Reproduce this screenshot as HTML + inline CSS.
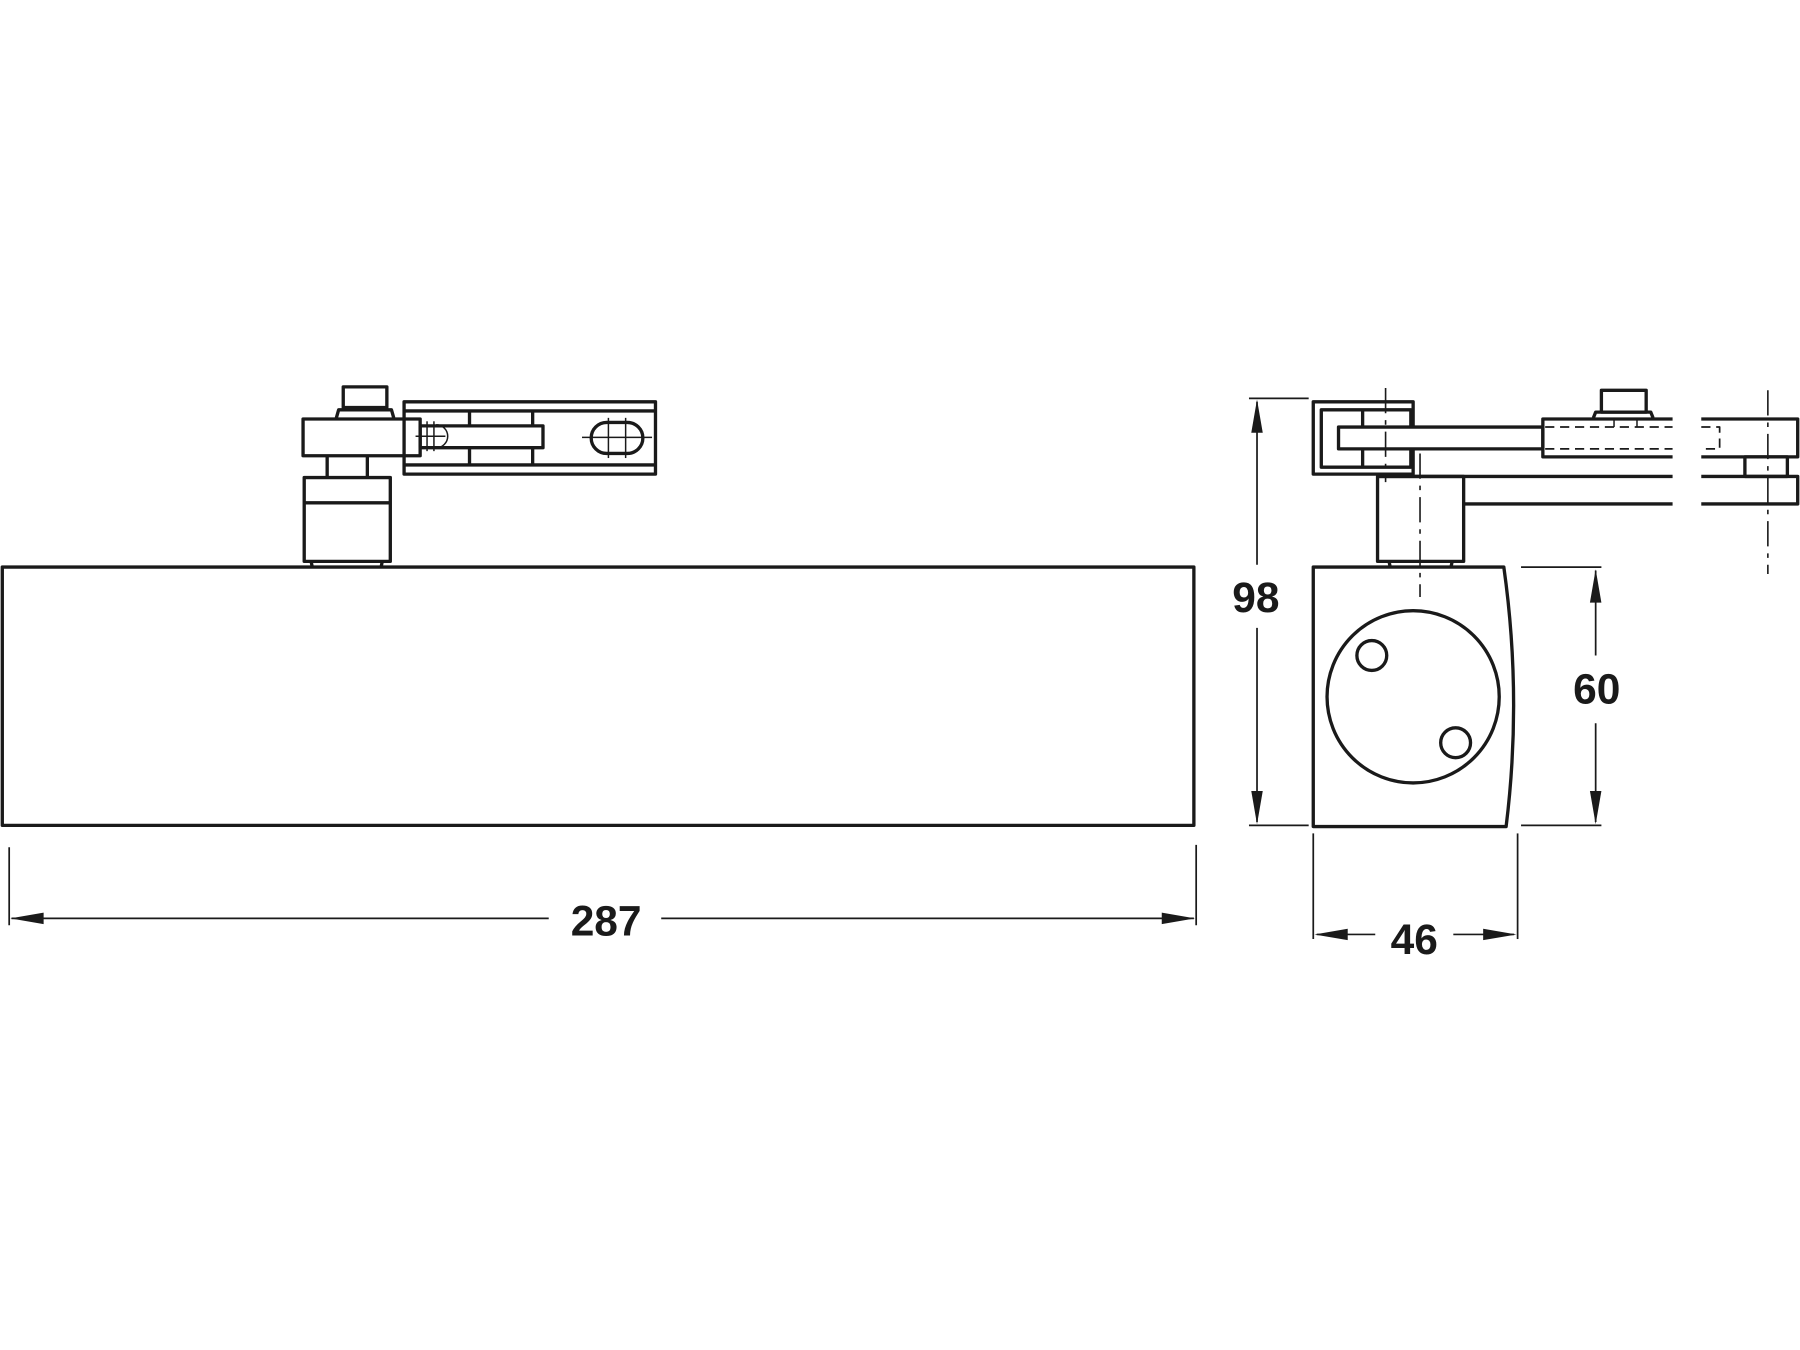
<!DOCTYPE html>
<html><head><style>html,body{margin:0;padding:0;background:#fff}svg{display:block}</style></head>
<body>
<svg width="1800" height="1350" viewBox="0 0 1568 1176" xmlns="http://www.w3.org/2000/svg">
<g fill="none" stroke="#1a1a1a" stroke-width="2.9" stroke-linejoin="round">
<rect x="2" y="494" width="1038" height="225"/>
<rect x="299" y="337" width="38" height="18"/>
<path d="M293 364 L295 357 L341 357 L343 364"/>
<rect x="264" y="365" width="102" height="32"/>
<line x1="285" y1="397" x2="285" y2="416"/><line x1="320" y1="397" x2="320" y2="416"/>
<rect x="265" y="416" width="75" height="73"/>
<line x1="265" y1="438" x2="340" y2="438"/>
<path d="M271 489 L272 494 M333 489 L332 494"/>
<rect x="352" y="350" width="219" height="63"/>
<line x1="352" y1="358" x2="571" y2="358"/>
<line x1="352" y1="405" x2="571" y2="405"/>
<rect x="366" y="371" width="107" height="19"/>
<line x1="409" y1="358" x2="409" y2="371"/><line x1="409" y1="390" x2="409" y2="405"/>
<line x1="464" y1="358" x2="464" y2="371"/><line x1="464" y1="390" x2="464" y2="405"/>
<rect x="515" y="368" width="45" height="27" rx="13.5"/>
<g stroke-width="1.3">
<path d="M380 370 A10 10 0 0 1 380 390"/>
<line x1="362" y1="380" x2="388" y2="380"/><line x1="372" y1="367" x2="372" y2="393"/><line x1="378" y1="367" x2="378" y2="393"/>
<line x1="507" y1="381" x2="568" y2="381"/><line x1="530" y1="364" x2="530" y2="399"/><line x1="545" y1="364" x2="545" y2="399"/>
</g>
<g stroke-width="1.5">
<line x1="8" y1="738" x2="8" y2="806"/><line x1="1042" y1="736" x2="1042" y2="806"/>
<line x1="10" y1="800" x2="478" y2="800"/><line x1="576" y1="800" x2="1040" y2="800"/>
</g>
<path d="M1144 494 L1310 494 Q1326 607 1312 720 L1144 720 Z"/>
<circle cx="1231" cy="607" r="75"/>
<circle cx="1195" cy="571" r="13"/>
<circle cx="1268" cy="647" r="13"/>
<rect x="1144" y="350" width="87" height="63"/>
<rect x="1151" y="357" width="78" height="50"/>
<rect x="1166" y="372" width="178" height="19" fill="#fff"/>
<line x1="1187" y1="357" x2="1187" y2="372"/><line x1="1187" y1="391" x2="1187" y2="407"/>
<rect x="1200" y="415" width="75" height="74"/>
<path d="M1210 489 L1211 494 M1265 489 L1264 494"/>
<line x1="1200" y1="415" x2="1457" y2="415"/><line x1="1275" y1="439" x2="1457" y2="439"/>
<path d="M1457 365 L1344 365 L1344 398 L1457 398"/>
<rect x="1395" y="340" width="39" height="19"/>
<path d="M1388 364 L1390 359 L1438 359 L1440 364"/>
<path d="M1482 365 L1566 365 L1566 398 L1482 398"/>
<path d="M1482 415 L1566 415 L1566 439 L1482 439"/>
<rect x="1520" y="398" width="37" height="17"/>
<g stroke-width="1.5" stroke-dasharray="8 5">
<line x1="1346" y1="372" x2="1457" y2="372"/><line x1="1346" y1="391" x2="1457" y2="391"/>
<path d="M1482 372 L1498 372 L1498 391 L1482 391"/>
</g>
<g stroke-width="1.4" stroke-dasharray="22 6 4 6">
<line x1="1207" y1="338" x2="1207" y2="420"/>
<line x1="1237" y1="395" x2="1237" y2="520"/>
<line x1="1540" y1="340" x2="1540" y2="500"/>
</g>
<line x1="1406" y1="364" x2="1406" y2="372" stroke-width="1.3"/><line x1="1426" y1="364" x2="1426" y2="372" stroke-width="1.3"/>
<g stroke-width="1.5">
<line x1="1088" y1="347" x2="1140" y2="347"/><line x1="1088" y1="719" x2="1140" y2="719"/>
<line x1="1095" y1="350" x2="1095" y2="492"/><line x1="1095" y1="547" x2="1095" y2="716"/>
<line x1="1325" y1="494" x2="1395" y2="494"/><line x1="1325" y1="719" x2="1395" y2="719"/>
<line x1="1390" y1="497" x2="1390" y2="571"/><line x1="1390" y1="630" x2="1390" y2="716"/>
<line x1="1144" y1="726" x2="1144" y2="818"/><line x1="1322" y1="726" x2="1322" y2="818"/>
<line x1="1147" y1="814" x2="1198" y2="814"/><line x1="1266" y1="814" x2="1319" y2="814"/>
</g>
</g>
<g fill="#1a1a1a">
<path d="M9 800 L38 795 L38 805 Z"/><path d="M1041 800 L1012 795 L1012 805 Z"/>
<path d="M1095 348 L1090 377 L1100 377 Z"/><path d="M1095 718 L1090 689 L1100 689 Z"/>
<path d="M1390 496 L1385 525 L1395 525 Z"/><path d="M1390 718 L1385 689 L1395 689 Z"/>
<path d="M1145 814 L1174 809 L1174 819 Z"/><path d="M1321 814 L1292 809 L1292 819 Z"/>
</g>
<g font-family="Liberation Sans, sans-serif" font-weight="bold" font-size="37" fill="#1a1a1a" text-anchor="middle">
<text x="528" y="815">287</text>
<text x="1094" y="533">98</text>
<text x="1391" y="613">60</text>
<text x="1232" y="831">46</text>
</g>
</svg>
</body></html>
